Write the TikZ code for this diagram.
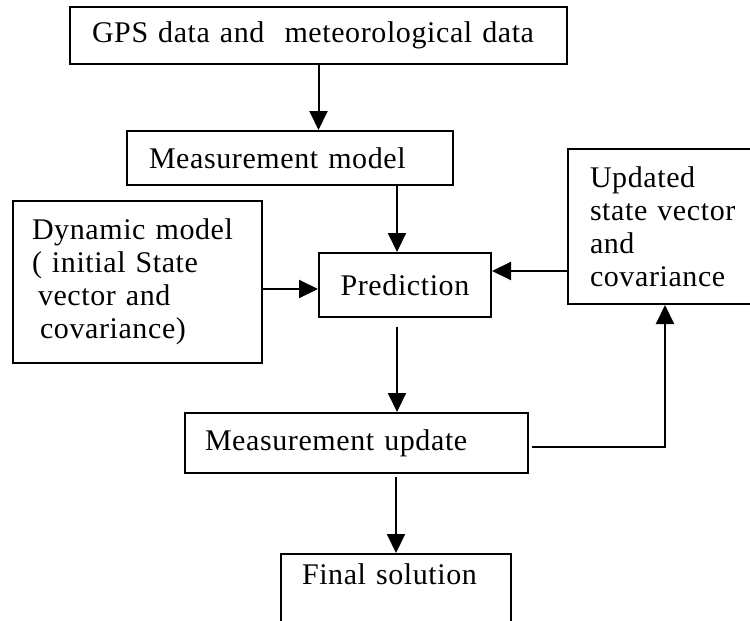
\documentclass[tikz,border=0pt]{standalone}
\usepackage{fontspec}
\setmainfont{Liberation Serif}[LetterSpace=2]
\usetikzlibrary{arrows.meta}
\tikzset{
  blk/.style={draw, line width=2pt, inner ysep=0pt, align=left},
  arr/.style={line width=2pt, -{Triangle[length=19pt,width=18pt]}}
}
\begin{document}
\begin{tikzpicture}[x=1pt, y=-1pt, font=\fontsize{30}{33}\selectfont]
    \useasboundingbox (0,0) rectangle (750,621);
    \clip (0,0) rectangle (750,621);
    \node[blk, inner xsep=22pt, text width=453pt, minimum height=57pt] (gps) at (318.5,35.5) {GPS data and~ meteorological data};
    \node[blk, inner xsep=22pt, text width=282pt, minimum height=54pt] (mm) at (290,158) {Measurement model};
    \node[blk, inner xsep=19pt, text width=211pt, minimum height=162pt] (dyn) at (137.5,282) {Dynamic model\\( initial State\\\hspace*{6pt}vector and\\\hspace*{8pt}covariance)};
    \node[blk, inner xsep=0pt, text width=172pt, align=center, minimum height=64pt] (pred) at (405,285) {Prediction};
    \node[blk, inner xsep=22pt, text width=150pt, minimum height=155pt] (upd) at (665,226.5) {Updated\\\mbox{state vector}\\and\\covariance};
    \node[blk, inner xsep=20pt, text width=303pt, minimum height=60pt] (mu) at (356.5,443) {Measurement update};
    \node[blk, inner xsep=21pt, inner ysep=10pt, text width=188pt, text depth=70pt, anchor=north] (fin) at (396,553) {Final solution};
    \coordinate (ax) at (397,0);
    \coordinate (rowA) at (0,289);
    \coordinate (rowB) at (0,271);
    \coordinate (rowC) at (0,447);
    \draw[arr] (gps.south) -- (gps.south |- mm.north);
    \draw[arr] (mm.south -| ax) -- (pred.north -| ax);
    \draw[arr] (dyn.east |- rowA) -- (pred.west |- rowA);
    \draw[arr] (upd.west |- rowB) -- (pred.east |- rowB);
    \draw[arr, shorten <=9pt] (pred.south -| ax) -- (mu.north -| ax);
    \draw[arr, shorten <=3pt] (mu.south -| fin.north) -- (fin.north);
    \draw[arr, shorten <=3pt] (mu.east |- rowC) -| (upd.south);
\end{tikzpicture}
\end{document}
